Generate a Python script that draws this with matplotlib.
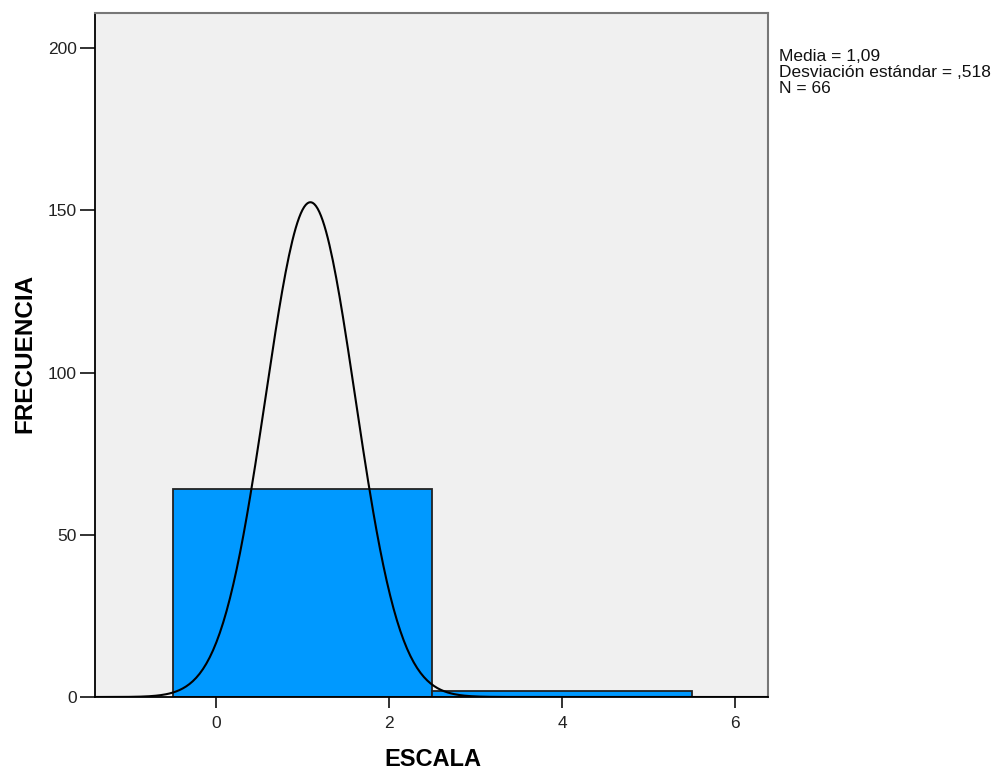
import numpy as np
import matplotlib
matplotlib.use('Agg')
from matplotlib import pyplot as plt

# datos del histograma (SPSS)
bordes = [-0.5, 2.5]      # borde izquierdo de cada barra
ancho = 3.0
frecuencias = [64, 2]
media = 1.09
desv = 0.518
n = 66
xticks = [0, 2, 4, 6]
yticks = [0, 50, 100, 150, 200]

plt.rcParams['font.family'] = ['Liberation Sans', 'DejaVu Sans']

fig = plt.figure(figsize=(10.04, 7.72), dpi=100)
ax = fig.add_axes([95/1004, 75/772, (768-95)/1004, (697-13)/772])
ax.set_facecolor('#F0F0F0')

ax.bar(bordes, frecuencias, width=ancho, align='edge', color='#0099FF',
       edgecolor='#222222', linewidth=1.3, zorder=2)

# curva normal escalada
xs = np.linspace(-1.4, 6.38, 400)
ys = n*ancho/(desv*np.sqrt(2*np.pi))*np.exp(-0.5*((xs-media)/desv)**2)
ax.plot(xs, ys, color='black', linewidth=1.5, zorder=3)

ax.set_xlim(-1.4, 6.38)
ax.set_ylim(0, 210.8)
ax.set_xticks(xticks)
ax.set_yticks(yticks)
ax.tick_params(axis='both', labelsize=12.5, colors='#222222', width=1.3)
ax.tick_params(axis='x', length=8, pad=6)
ax.tick_params(axis='y', length=11, pad=2)

for s in ['left', 'bottom']:
    ax.spines[s].set_color('black')
    ax.spines[s].set_linewidth(1.3)
for s in ['top', 'right']:
    ax.spines[s].set_color('#777777')
    ax.spines[s].set_linewidth(1.5)

fig.text(433/1004, 1-760/772, 'ESCALA', fontsize=17, fontweight='bold',
         ha='center', va='center')
fig.text(25/1004, 1-353/772, 'FRECUENCIA', fontsize=17.5, fontweight='bold',
         ha='center', va='center', rotation=90)

fig.text(779/1004, 1-49/772,
         'Media = 1,09\nDesviación estándar = ,518\nN = 66',
         fontsize=12.5, va='top', ha='left', linespacing=1.1, color='#111111')

plt.savefig('out.png', dpi=100)
